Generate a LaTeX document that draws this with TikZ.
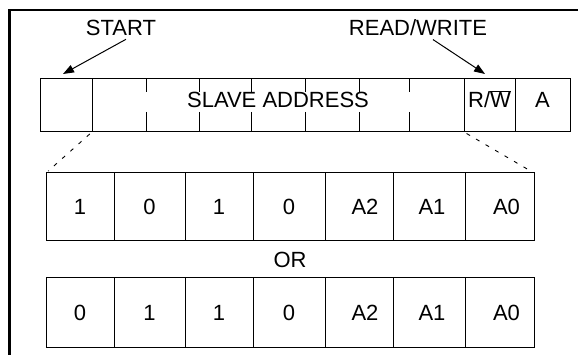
\documentclass[tikz,border=0pt]{standalone}
\usepackage{fontspec}
\setmainfont{Liberation Sans}
\usetikzlibrary{arrows.meta}
\begin{document}
\begin{tikzpicture}[x=1pt,y=-1pt,
  every node/.style={font=\fontsize{22}{26}\selectfont, inner sep=0pt, outer sep=0pt},
  topcell/.style={draw, line width=1pt, minimum width=#1, minimum height=53pt, text height=15.5pt, text depth=12pt},
  bitcell/.style 2 args={draw, line width=1pt, minimum width=#1, minimum height=#2},
  thin/.style={line width=1pt},
  zoomline/.style={line width=0.9pt, dash pattern=on 4pt off 7pt, shorten <=3pt, shorten >=3pt},
  pointer/.style={line width=1pt, -{Triangle[length=11pt,width=8pt]}}
]
\useasboundingbox (0,0) rectangle (578,355);
% frame
\draw[line width=2.6pt] (9.5,355) -- (9.5,10) -- (578,10);
% labels
\node (starttxt) at (121,28) {START};
\node (rwtxt) at (418,28) {READ/WRITE};
% top row
\node[topcell={52pt}] (startcell) at (66,105.5) {};
\node[topcell={372pt}] (slave) at (278,105.5) {SLAVE ADDRESS};
\node[topcell={51pt}] (rw) at (489.5,105.5) {R/$\overline{\hbox{W}}$};
\node[topcell={55pt}] (ack) at (542.5,105.5) {A};
\foreach \x in {146,199,251,305,359,409}{
  \draw[thin] (\x,79) -- (\x,92);
  \draw[thin] (\x,112) -- (\x,132);
}
% arrows
\draw[pointer] ([xshift=5pt,yshift=-3.5pt]starttxt.south) -- ([xshift=-3pt,yshift=5pt]startcell.north);
\draw[pointer] ([xshift=15pt,yshift=-3.5pt]rwtxt.south) -- ([xshift=-4.5pt,yshift=5pt]rw.north);
% row 1
\node[bitcell={68pt}{68pt}] (r1c1) at (80,207) {1};
\node[bitcell={71pt}{68pt}] (r1c2) at (149.5,207) {0};
\node[bitcell={68pt}{68pt}] (r1c3) at (219,207) {1};
\node[bitcell={72pt}{68pt}] (r1c4) at (289,207) {0};
\node[bitcell={68pt}{68pt}] (r1c5) at (359,207) {\hspace*{12pt}A2};
\node[bitcell={72pt}{68pt}] (r1c6) at (429,207) {\hspace*{6pt}A1};
\node[bitcell={69pt}{68pt}] (r1c7) at (499.5,207) {\hspace*{14pt}A0};
% OR
\node (ortxt) at (290,260) {OR};
% row 2
\node[bitcell={68pt}{69pt}] (r2c1) at (80,312.5) {0};
\node[bitcell={71pt}{69pt}] (r2c2) at (149.5,312.5) {1};
\node[bitcell={68pt}{69pt}] (r2c3) at (219,312.5) {1};
\node[bitcell={72pt}{69pt}] (r2c4) at (289,312.5) {0};
\node[bitcell={68pt}{69pt}] (r2c5) at (359,312.5) {\hspace*{12pt}A2};
\node[bitcell={72pt}{69pt}] (r2c6) at (429,312.5) {\hspace*{6pt}A1};
\node[bitcell={69pt}{69pt}] (r2c7) at (499.5,312.5) {\hspace*{14pt}A0};
% zoom lines
\draw[zoomline] (slave.south west) -- (r1c1.north west);
\draw[zoomline] (slave.south east) -- (r1c7.north east);
\end{tikzpicture}
\end{document}
